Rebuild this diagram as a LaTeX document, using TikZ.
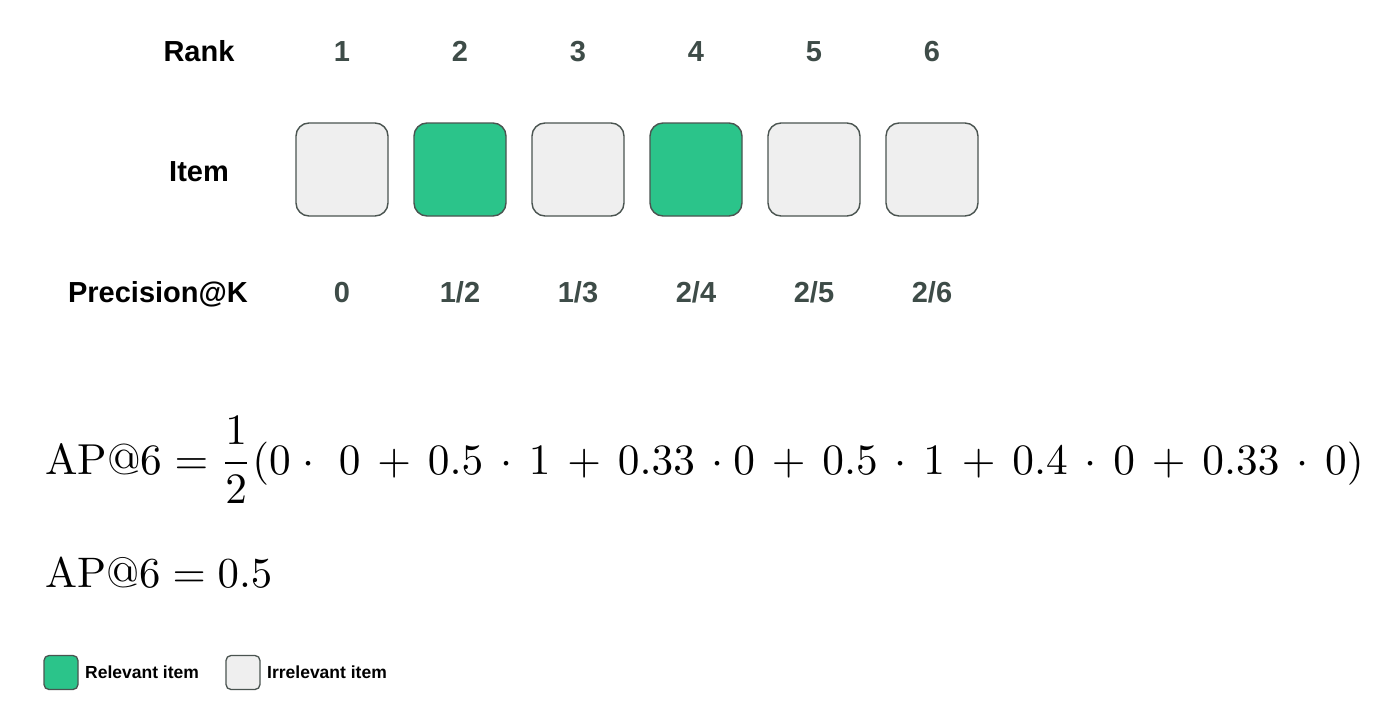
\documentclass[tikz,border=0pt]{standalone}
\usepackage{fontspec}
\usepackage{amsmath}
\setsansfont{Liberation Sans}
\definecolor{relgreen}{HTML}{2BC48A}
\definecolor{irrgray}{HTML}{EFEFEF}
\definecolor{boxline}{HTML}{4A5450}
\definecolor{numgray}{HTML}{3E4C48}
\newcommand{\gp}{\mkern3mu}
\begin{document}
\begin{tikzpicture}[x=1pt,y=-1pt,
  rowlabel/.style={font=\sffamily\bfseries\fontsize{29}{34}\selectfont, text=black, anchor=base, inner sep=0pt},
  numlabel/.style={font=\sffamily\bfseries\fontsize{29}{34}\selectfont, text=numgray, anchor=base, inner sep=0pt},
  itembox/.style={draw=boxline, line width=1.4pt, rounded corners=13pt, minimum width=92pt, minimum height=93pt, inner sep=0pt},
  relbox/.style={itembox, fill=relgreen},
  irrbox/.style={itembox, fill=irrgray},
  legbox/.style={draw=boxline, line width=1.3pt, rounded corners=5pt, minimum width=34pt, minimum height=34pt, inner sep=0pt},
  legtext/.style={font=\sffamily\bfseries\fontsize{17.5}{21}\selectfont, anchor=west, inner sep=0pt},
  mathtext/.style={anchor=base west, inner sep=0pt}
]
\useasboundingbox[fill=white] (0,0) rectangle (1400,718);
% row labels
\node[rowlabel] (rank) at (199,61) {Rank};
\node[rowlabel] (item) at (199,181) {Item};
\node[rowlabel] (prec) at (158,302) {Precision@K};
% ranks
\node[numlabel] (r1) at (342,61) {1};
\node[numlabel] (r2) at (460,61) {2};
\node[numlabel] (r3) at (578,61) {3};
\node[numlabel] (r4) at (696,61) {4};
\node[numlabel] (r5) at (814,61) {5};
\node[numlabel] (r6) at (932,61) {6};
% items
\node[irrbox] (b1) at (342,169.5) {};
\node[relbox] (b2) at (460,169.5) {};
\node[irrbox] (b3) at (578,169.5) {};
\node[relbox] (b4) at (696,169.5) {};
\node[irrbox] (b5) at (814,169.5) {};
\node[irrbox] (b6) at (932,169.5) {};
% precision
\node[numlabel] (p1) at (342,302) {0};
\node[numlabel] (p2) at (460,302) {1/2};
\node[numlabel] (p3) at (578,302) {1/3};
\node[numlabel] (p4) at (696,302) {2/4};
\node[numlabel] (p5) at (814,302) {2/5};
\node[numlabel] (p6) at (932,302) {2/6};
% formulas
\node[mathtext] (f1) at (45,474) {\resizebox{1318pt}{!}{$\displaystyle \mathrm{AP@6}=\frac{1}{2}(0\mkern1mu\cdot\mkern6mu 0\gp+\gp 0.5\gp\cdot\gp 1\gp+\gp 0.33\gp\cdot 0\gp+\gp 0.5\gp\cdot\gp 1\gp+\gp 0.4\gp\cdot\gp 0\gp+\gp 0.33\gp\cdot\gp 0)$}};
\node[mathtext] (f2) at (45,587) {\resizebox{227pt}{!}{$\mathrm{AP@6}=0.5$}};
% legend
\node[legbox, fill=relgreen] (lg1) at (61,672.5) {};
\node[legtext] (lt1) at (85,672.5) {Relevant item};
\node[legbox, fill=irrgray] (lg2) at (243,672.5) {};
\node[legtext] (lt2) at (267,672.5) {Irrelevant item};
\end{tikzpicture}
\end{document}
